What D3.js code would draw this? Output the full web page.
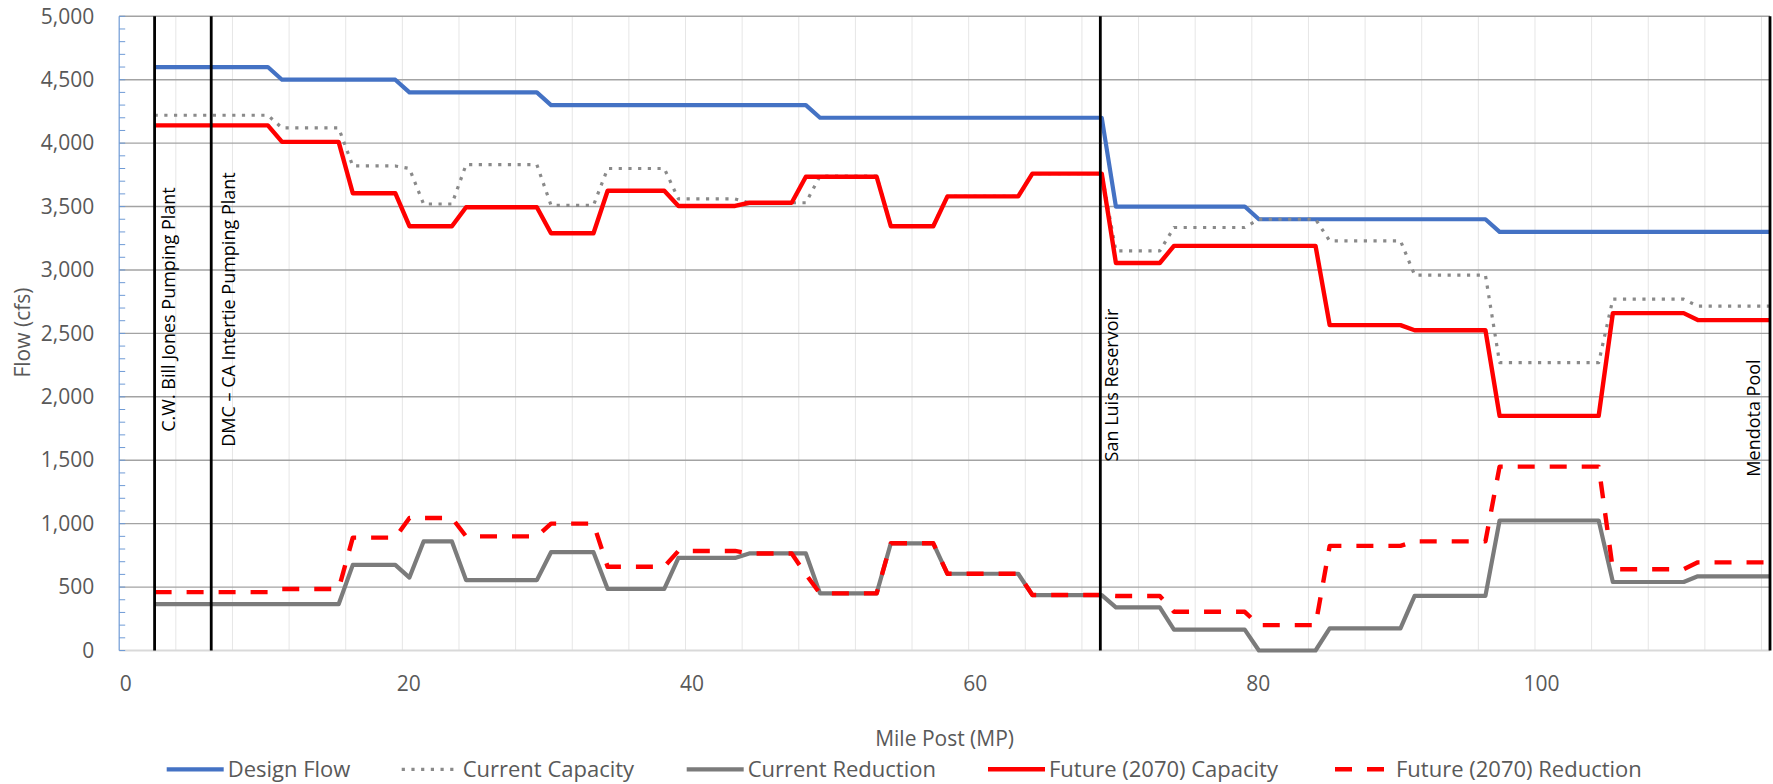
<!DOCTYPE html>
<html>
<head>
<meta charset="utf-8">
<script src="https://cdn.jsdelivr.net/npm/d3@7"></script>
<style>
  html, body { margin: 0; padding: 0; background: #ffffff; }
  svg { display: block; font-family: "Open Sans", "Noto Sans", sans-serif; }
</style>
</head>
<body>
<svg id="chart" width="1773" height="784"></svg>
<script>
// Mile posts shared by every series (MP)
const mileposts = [2.5, 10.5, 11.5, 15.5, 16.5, 19.5, 20.5, 21.5, 23.5, 24.5, 29.5, 30.5,
  33.5, 34.5, 38.5, 39.5, 43.5, 44.5, 47.5, 48.5, 49.5, 53.5, 54.5, 57.5, 58.5, 63.5,
  64.5, 69.4, 70.4, 73.5, 74.5, 79.5, 80.5, 84.5, 85.5, 90.5, 91.5, 96.5, 97.5, 104.5,
  105.5, 110.5, 111.5, 116.6];

// Flow in cfs at each mile post
const designFlow = [4600, 4600, 4500, 4500, 4500, 4500, 4400, 4400, 4400, 4400, 4400, 4300,
  4300, 4300, 4300, 4300, 4300, 4300, 4300, 4300, 4200, 4200, 4200, 4200, 4200, 4200,
  4200, 4200, 3500, 3500, 3500, 3500, 3400, 3400, 3400, 3400, 3400, 3400, 3300, 3300,
  3300, 3300, 3300, 3300];
const currentCapacity = [4220, 4220, 4120, 4120, 3820, 3820, 3800, 3520, 3520, 3830, 3830, 3510,
  3510, 3800, 3800, 3560, 3560, 3530, 3530, 3530, 3740, 3740, 3350, 3350, 3580, 3580,
  3760, 3760, 3150, 3150, 3335, 3335, 3400, 3400, 3230, 3230, 2960, 2960, 2270, 2270,
  2770, 2770, 2715, 2715];
const currentReduction = [365, 365, 365, 365, 675, 675, 575, 860, 860, 555, 555, 775,
  775, 485, 485, 730, 730, 765, 765, 765, 450, 450, 845, 845, 605, 605,
  437, 437, 340, 340, 165, 165, 0, 0, 175, 175, 430, 430, 1025, 1025,
  540, 540, 585, 585];
const futureCapacity = [4140, 4140, 4010, 4010, 3605, 3605, 3345, 3345, 3345, 3495, 3495, 3290,
  3290, 3625, 3625, 3505, 3505, 3530, 3530, 3735, 3735, 3735, 3345, 3345, 3580, 3580,
  3760, 3760, 3055, 3055, 3190, 3190, 3190, 3190, 2565, 2565, 2525, 2525, 1850, 1850,
  2660, 2660, 2605, 2605];
const futureReduction = [460, 460, 485, 485, 890, 890, 1045, 1045, 1045, 900, 900, 1000,
  1000, 660, 660, 785, 785, 765, 765, 600, 450, 450, 845, 845, 605, 605,
  437, 437, 430, 430, 305, 305, 200, 200, 825, 825, 860, 860, 1450, 1450,
  640, 640, 695, 695];

const seriesNames = ["Design Flow", "Current Capacity", "Current Reduction",
  "Future (2070) Capacity", "Future (2070) Reduction"];

// Facilities along the canal
const facilityNames = ["C.W. Bill Jones Pumping Plant", "DMC \u2013 CA Intertie Pumping Plant",
  "San Luis Reservoir", "Mendota Pool"];
const facilityMileposts = [2.5, 6.5, 69.3, 116.6];

// Axis ticks
const xTickValues = [0, 20, 40, 60, 80, 100];
const yTickValues = [0, 500, 1000, 1500, 2000, 2500, 3000, 3500, 4000, 4500, 5000];

// ---- layout ----
const plot = { left: 119.2, right: 1770, top: 16.3, bottom: 650.5 };
const seriesStyles = [
  { color: "#4472c4", width: 4.2, dash: null },
  { color: "#8a8a8a", width: 3.2, dash: "3.2 6.5" },
  { color: "#7b7b7b", width: 4.2, dash: null },
  { color: "#ff0000", width: 4.4, dash: null },
  { color: "#ff0000", width: 4.4, dash: "17 15" }
];
// legend entry start positions (sample line begins here)
const legendStarts = [166.7, 401.7, 686.7, 988, 1335];
// label placement for each facility: baseline offset from its line, vertical centre
const facilityLabelLayout = [
  { dx: 20, cy: 309.5 },
  { dx: 24, cy: 309.5 },
  { dx: 18, cy: 385 },
  { dx: -10, cy: 418 }
];

const svg = d3.select("#chart");
const x = d3.scaleLinear().domain([0, 116.6]).range([plot.left, plot.right]);
const y = d3.scaleLinear().domain([0, 5000]).range([plot.bottom, plot.top]);

// vertical light gridlines every 4 MP
svg.append("g")
  .selectAll("line")
  .data(d3.range(4, 117, 4))
  .join("line")
  .attr("x1", d => x(d)).attr("x2", d => x(d))
  .attr("y1", plot.top).attr("y2", plot.bottom)
  .attr("stroke", "#e6e6e6").attr("stroke-width", 1);

// horizontal gridlines
svg.append("g")
  .selectAll("line")
  .data(yTickValues.filter(v => v > 0))
  .join("line")
  .attr("x1", plot.left).attr("x2", plot.right)
  .attr("y1", d => y(d)).attr("y2", d => y(d))
  .attr("stroke", "#a3a3a3").attr("stroke-width", 1.4);

// baseline at zero
svg.append("line")
  .attr("x1", plot.left).attr("x2", plot.right)
  .attr("y1", y(0)).attr("y2", y(0))
  .attr("stroke", "#d9d9d9").attr("stroke-width", 1.8);

// y axis line with minor ticks every 100 cfs
svg.append("line")
  .attr("x1", plot.left).attr("x2", plot.left)
  .attr("y1", y(5000)).attr("y2", y(0))
  .attr("stroke", "#6f9bd6").attr("stroke-width", 1.2);
svg.append("g")
  .selectAll("line")
  .data(d3.range(0, 5001, 100))
  .join("line")
  .attr("x1", plot.left).attr("x2", plot.left + 6)
  .attr("y1", d => y(d)).attr("y2", d => y(d))
  .attr("stroke", "#6f9bd6").attr("stroke-width", 1);

// y axis labels
const yAxis = svg.append("g")
  .attr("transform", `translate(${plot.left},0)`)
  .call(d3.axisLeft(y).tickValues(yTickValues).tickFormat(d3.format(",")).tickSize(0).tickPadding(25));
yAxis.select(".domain").remove();
yAxis.selectAll("text")
  .attr("font-family", "Open Sans").attr("font-size", 21).attr("fill", "#595959");

// x axis labels
const xAxis = svg.append("g")
  .attr("transform", `translate(0,${plot.bottom})`)
  .call(d3.axisBottom(x).tickValues(xTickValues).tickFormat(d3.format("d")).tickSize(0).tickPadding(26));
xAxis.select(".domain").remove();
xAxis.selectAll("text")
  .attr("font-family", "Open Sans").attr("font-size", 21).attr("fill", "#595959")
  .attr("dx", 6);

// axis titles
svg.append("text")
  .attr("transform", `translate(30,332.5) rotate(-90)`)
  .attr("text-anchor", "middle")
  .attr("font-size", 21).attr("fill", "#595959")
  .text("Flow (cfs)");
svg.append("text")
  .attr("x", (plot.left + plot.right) / 2).attr("y", 746)
  .attr("text-anchor", "middle")
  .attr("font-size", 21).attr("fill", "#595959")
  .text("Mile Post (MP)");

// series lines
const seriesValues = [designFlow, currentCapacity, currentReduction, futureCapacity, futureReduction];
const line = d3.line().x(d => x(d[0])).y(d => y(d[1]));
seriesValues.forEach((vals, i) => {
  const pts = mileposts.map((mp, j) => [mp, vals[j]]);
  const st = seriesStyles[i];
  svg.append("path")
    .datum(pts)
    .attr("d", line)
    .attr("fill", "none")
    .attr("stroke", st.color)
    .attr("stroke-width", st.width)
    .attr("stroke-linejoin", "round")
    .attr("stroke-dasharray", st.dash);
});

// facility markers
facilityMileposts.forEach((mp, i) => {
  svg.append("line")
    .attr("x1", x(mp)).attr("x2", x(mp))
    .attr("y1", y(5000)).attr("y2", y(0))
    .attr("stroke", "#000000").attr("stroke-width", 2.8);
  const lay = facilityLabelLayout[i];
  svg.append("text")
    .attr("transform", `translate(${x(mp) + lay.dx},${lay.cy}) rotate(-90)`)
    .attr("text-anchor", "middle")
    .attr("font-size", 18).attr("fill", "#000000")
    .text(facilityNames[i]);
});

// legend
const legend = svg.append("g");
const ly = 769.3;
seriesNames.forEach((name, i) => {
  const st = seriesStyles[i];
  const lx = legendStarts[i];
  legend.append("line")
    .attr("x1", lx).attr("x2", lx + 57)
    .attr("y1", ly).attr("y2", ly)
    .attr("stroke", st.color).attr("stroke-width", st.width)
    .attr("stroke-dasharray", st.dash);
  legend.append("text")
    .attr("x", lx + 61).attr("y", ly + 7.5)
    .attr("font-size", 22).attr("fill", "#595959")
    .text(name);
});
</script>
</body>
</html>
